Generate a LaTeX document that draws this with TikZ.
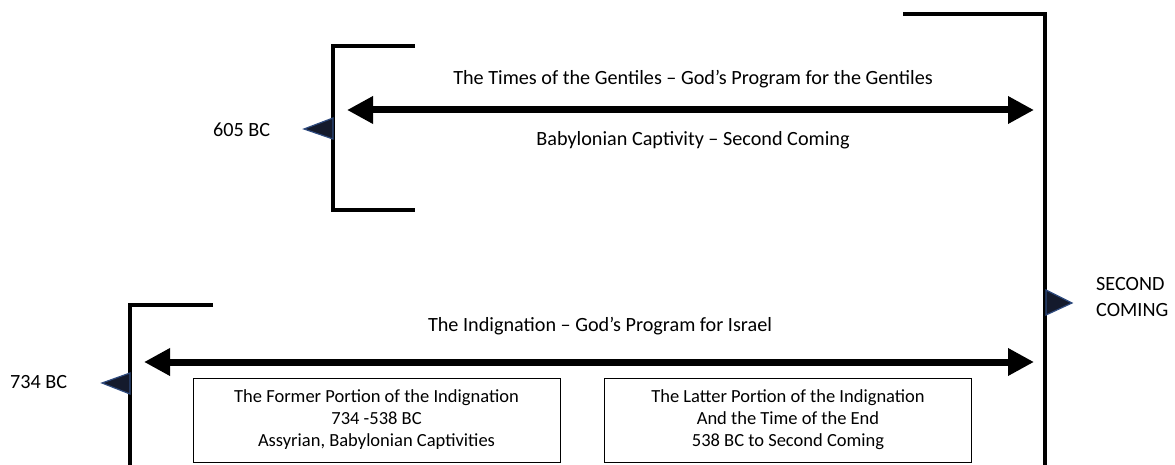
\documentclass[tikz,border=0pt]{standalone}
\usepackage{fontspec}
\setmainfont{Carlito}
\usetikzlibrary{arrows.meta}
\definecolor{mk}{HTML}{141A2C}
\definecolor{mkedge}{HTML}{2E4A7E}
\begin{document}
\begin{tikzpicture}[x=1pt,y=-1pt,
  bar/.style={line width=4pt},
  bigarrow/.style={line width=7pt,{Triangle[length=26pt,width=26pt]}-{Triangle[length=26pt,width=26pt]}},
  lbl/.style={font=\fontsize{20.2}{22}\selectfont,inner sep=0pt,text=black},
  infobox/.style={draw,line width=1pt,minimum width=367pt,minimum height=84pt,align=center,font=\fontsize{18.5}{22}\selectfont,inner sep=0pt},
  marker/.style={fill=mk,draw=mkedge,line width=1.2pt,line join=miter}]
\useasboundingbox (0,0) rectangle (1175,465);
% right big line
\coordinate (rt0) at (903,14);
\coordinate (rt1) at (1045,14);
\coordinate (rb) at (1045,470);
\draw[bar] (rt0) -- (rt1) -- (rb);
% upper bracket
\coordinate (u1) at (415,46);
\coordinate (u2) at (333,46);
\coordinate (u3) at (333,210);
\coordinate (u4) at (415,210);
\draw[bar] (u1) -- (u2) -- (u3) -- (u4);
% lower bracket
\coordinate (l1) at (213,305);
\coordinate (l2) at (130,305);
\coordinate (l3) at (130,470);
\draw[bar] (l1) -- (l2) -- (l3);
% arrows
\coordinate (ua) at (347,110);
\coordinate (ub) at (1034,110);
\draw[bigarrow] (ua) -- (ub);
\coordinate (la) at (144,362);
\coordinate (lb) at (1034,362);
\draw[bigarrow] (la) -- (lb);
% markers
\draw[marker] (333,118) -- (304,129) -- (333,139) -- cycle;
\draw[marker] (130,373) -- (102,383) -- (130,394) -- cycle;
\draw[marker] (1046,290) -- (1072,303) -- (1046,315) -- cycle;
% labels
\node[lbl] (t1) at (693,79) {The Times of the Gentiles – God’s Program for the Gentiles};
\node[lbl] (t2) at (693,140) {Babylonian Captivity – Second Coming};
\node[lbl] (t3) at (600,326) {The Indignation – God’s Program for Israel};
\node[lbl,anchor=west] (d1) at (213,130) {605 BC};
\node[lbl,anchor=west] (d2) at (10,382) {734 BC};
\node[lbl,anchor=west,align=left] (sc) at (1096,297) {SECOND\\[4pt]COMING};
% boxes
\node[infobox] (b1) at (376.5,420) {The Former Portion of the Indignation\\734 -538 BC\\Assyrian, Babylonian Captivities};
\node[infobox] (b2) at (788,420) {The Latter Portion of the Indignation\\And the Time of the End\\538 BC to Second Coming};
\end{tikzpicture}
\end{document}
